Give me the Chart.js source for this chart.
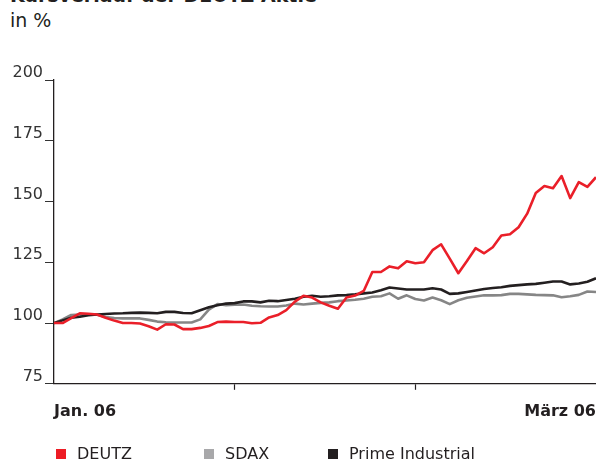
<!DOCTYPE html>
<html lang="de">
<head>
<meta charset="UTF-8">
<title>Kursverlauf der DEUTZ Aktie</title>
<script src="https://cdn.jsdelivr.net/npm/chart.js"></script>
<style>
body { margin: 0; background: #fff; }
#wrap { position: relative; width: 596px; height: 462px; overflow: hidden; font-family: 'DejaVu Sans', sans-serif; color: #231f20; }
.title { position: absolute; left: 10px; top: -14px; font-size: 19px; font-weight: bold; line-height: 19px; white-space: nowrap; }
.unit { position: absolute; left: 10px; top: 11px; font-size: 19px; line-height: 19px; }
#chart { position: absolute; left: 0; top: 0; }
#legend { position: absolute; left: 56px; top: 444px; font-size: 16px; line-height: 19px; white-space: nowrap; }
#legend span.item { display: inline-block; }
#legend span.item:nth-child(1) { width: 148px; }
#legend span.item:nth-child(2) { width: 124px; }
#legend span.box { display: inline-block; width: 10px; height: 10px; margin-right: 11px; vertical-align: 0px; }
</style>
</head>
<body>
<div id="wrap">
    <div class="title">Kursverlauf der DEUTZ Aktie</div>
    <div class="unit">in %</div>
    <canvas id="chart" width="596" height="462"></canvas>
    <div id="legend"></div>
</div>
<script>
// Trading days Jan - Mar 2006, indexed 0..63 (100 = start)
const deutz = [
    100, 100, 102, 104, 103.8, 103.5, 102.2, 101, 100, 100,
    99.8, 98.7, 97.3, 99.5, 99.4, 97.5, 97.5, 98, 98.8, 100.4,
    100.6, 100.4, 100.4, 99.9, 100.1, 102.3, 103.3, 105.3, 108.8, 111.2,
    110.5, 108.5, 107.1, 105.9, 110.5, 111.3, 113.2, 121, 121, 123.3,
    122.5, 125.4, 124.6, 125, 130, 132.4, 126.5, 120.5, 125.5, 130.8,
    128.7, 131.2, 136, 136.5, 139.4, 145, 153.5, 156.4, 155.5, 160.5,
    151.4, 158, 156, 160
];
const sdax = [
    100, 101.5, 103.3, 103.5, 103.5, 103.4, 102.5, 102.1, 101.9, 101.9,
    101.9, 101.3, 100.6, 100.3, 100.2, 100.2, 100.2, 101.5, 105.5, 107.8,
    107.3, 107.5, 107.6, 107.1, 106.9, 106.8, 106.8, 107.2, 108, 107.6,
    108, 108.3, 108.5, 109, 109.3, 109.6, 110, 110.8, 111, 112.2,
    110, 111.4, 109.9, 109.3, 110.5, 109.4, 107.8, 109.4, 110.4, 110.9,
    111.4, 111.4, 111.5, 112, 112, 111.8, 111.6, 111.5, 111.4, 110.6,
    111, 111.6, 113, 112.8
];
const primeIndustrial = [
    100, 101.1, 102.2, 102.6, 103.2, 103.5, 103.7, 103.9, 104, 104.2,
    104.3, 104.2, 104, 104.6, 104.6, 104.1, 104, 105.3, 106.5, 107.3,
    108, 108.2, 108.9, 108.9, 108.5, 109.2, 109, 109.5, 110, 110.8,
    111.2, 110.8, 111, 111.4, 111.5, 111.8, 112.2, 112.6, 113.5, 114.6,
    114.2, 113.8, 113.8, 113.8, 114.3, 113.8, 112, 112.2, 112.8, 113.4,
    114, 114.4, 114.7, 115.3, 115.6, 115.9, 116.1, 116.6, 117.1, 117.1,
    115.9, 116.3, 117, 118.4
];

const seriesNames = ['DEUTZ', 'SDAX', 'Prime Industrial'];
const lineColors = ['#ea1f29', '#868686', '#231f20'];
const legendColors = ['#ed1c24', '#a8a8aa', '#231f20'];

const xTickPos = [0, 21, 42, 63];
const xTickLabels = ['Jan. 06', '', '', 'März 06'];
const yTicks = [75, 100, 125, 150, 175, 200];

Chart.defaults.font.family = "'DejaVu Sans', sans-serif";
Chart.defaults.color = '#231f20';

function toPoints(arr) {
    return arr.map((v, i) => ({ x: i, y: v }));
}

const datasets = [deutz, sdax, primeIndustrial].map((arr, i) => ({
    label: seriesNames[i],
    data: toPoints(arr),
    borderColor: lineColors[i],
    backgroundColor: lineColors[i],
    borderWidth: 2.6,
    pointRadius: 0,
    tension: 0,
    borderJoinStyle: 'round',
    fill: false,
    order: [0, 2, 1][i]
}));

const ctx = document.getElementById('chart').getContext('2d');
const chart = new Chart(ctx, {
    type: 'line',
    data: { datasets: datasets },
    options: {
        responsive: false,
        animation: false,
        devicePixelRatio: 1,
        layout: { padding: { top: 80, right: 0, bottom: 29, left: 0 } },
        plugins: {
            legend: { display: false },
            tooltip: { enabled: false }
        },
        scales: {
            x: {
                type: 'linear',
                min: 0,
                max: deutz.length - 1,
                afterBuildTicks: scale => {
                    scale.ticks = xTickPos.map(v => ({ value: v }));
                },
                // labels are aligned inside, no side inset needed
                afterFit: scale => {
                    scale.paddingLeft = 0;
                    scale.paddingRight = 0;
                },
                ticks: {
                    autoSkip: false,
                    maxRotation: 0,
                    align: 'inner',
                    padding: 12,
                    font: { size: 16, weight: 'bold' },
                    color: '#231f20',
                    callback: (value, index) => xTickLabels[index]
                },
                grid: {
                    drawOnChartArea: false,
                    tickLength: 6,
                    tickWidth: 1.2,
                    tickColor: c => (c.index === 0 || c.index === xTickPos.length - 1) ? 'rgba(0,0,0,0)' : '#231f20'
                },
                border: { display: true, color: '#231f20', width: 1.3 }
            },
            y: {
                min: 75,
                max: 200,
                afterBuildTicks: scale => {
                    scale.ticks = yTicks.map(v => ({ value: v }));
                },
                afterFit: scale => { scale.width = 54; },
                ticks: {
                    padding: 2,
                    labelOffset: -7,
                    font: { size: 16 },
                    color: '#333333'
                },
                grid: {
                    drawOnChartArea: false,
                    tickLength: 9,
                    tickWidth: 1,
                    tickColor: '#333333'
                },
                border: { display: true, color: '#231f20', width: 1.3 }
            }
        }
    }
});

// legend as html below the chart
const legend = document.getElementById('legend');
seriesNames.forEach((name, i) => {
    const item = document.createElement('span');
    item.className = 'item';
    const box = document.createElement('span');
    box.className = 'box';
    box.style.background = legendColors[i];
    item.appendChild(box);
    item.appendChild(document.createTextNode(name));
    legend.appendChild(item);
});
</script>
</body>
</html>
